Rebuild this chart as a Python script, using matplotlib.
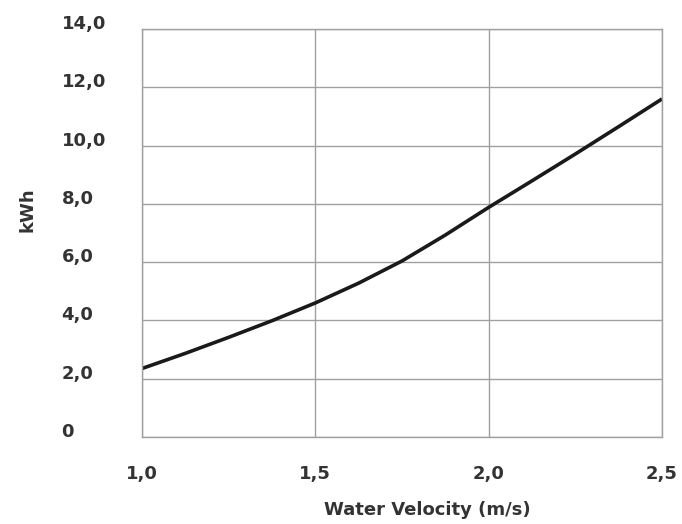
import matplotlib.pyplot as plt
import matplotlib.transforms as mtransforms

# valores
velocidad = [1.0, 1.125, 1.25, 1.375, 1.5, 1.625, 1.75, 1.875, 2.0, 2.125, 2.25, 2.375, 2.5]
energia = [2.35, 2.87, 3.42, 3.99, 4.6, 5.28, 6.04, 6.93, 7.88, 8.79, 9.71, 10.65, 11.6]
ticks_x = [1.0, 1.5, 2.0, 2.5]
etiquetas_x = ['1,0', '1,5', '2,0', '2,5']
ticks_y = [0, 2, 4, 6, 8, 10, 12, 14]
etiquetas_y = ['0', '2,0', '4,0', '6,0', '8,0', '10,0', '12,0', '14,0']

color_texto = '#333333'
color_rejilla = '#a0a0a0'

fig = plt.figure(figsize=(6.82, 5.24), dpi=100)
ax = fig.add_axes([142 / 682, 87 / 524, 520 / 682, 408 / 524])

ax.plot(velocidad, energia, color='#1a1a1a', linewidth=2.6,
        solid_capstyle='butt', solid_joinstyle='round')

ax.set_xlim(1.0, 2.5)
ax.set_ylim(0, 14)
ax.set_xticks(ticks_x)
ax.set_xticklabels(etiquetas_x)
ax.set_yticks(ticks_y)
ax.set_yticklabels(etiquetas_y)
ax.grid(True, color=color_rejilla, linewidth=1)
ax.tick_params(length=0)
ax.tick_params(axis='x', pad=20)
ax.tick_params(axis='y', pad=58)
for s in ax.spines.values():
    s.set_color(color_rejilla)
    s.set_linewidth(1)

# etiquetas del eje y un poco por encima de la rejilla
desplazamiento = mtransforms.ScaledTranslation(0, 7 / 100, fig.dpi_scale_trans)
for lab in ax.get_yticklabels():
    lab.set_horizontalalignment('left')
    lab.set_transform(lab.get_transform() + desplazamiento)
for lab in ax.get_xticklabels() + ax.get_yticklabels():
    lab.set_fontsize(13)
    lab.set_fontweight('bold')
    lab.set_color(color_texto)

fig.text(427 / 682, 1 - 510 / 524, 'Water Velocity (m/s)', ha='center', va='center',
         fontsize=13, fontweight='bold', color=color_texto)
fig.text(28 / 682, 1 - 210 / 524, 'kWh', ha='center', va='center', rotation=90,
         fontsize=13, fontweight='bold', color=color_texto)

plt.savefig('out.png', dpi=100)
